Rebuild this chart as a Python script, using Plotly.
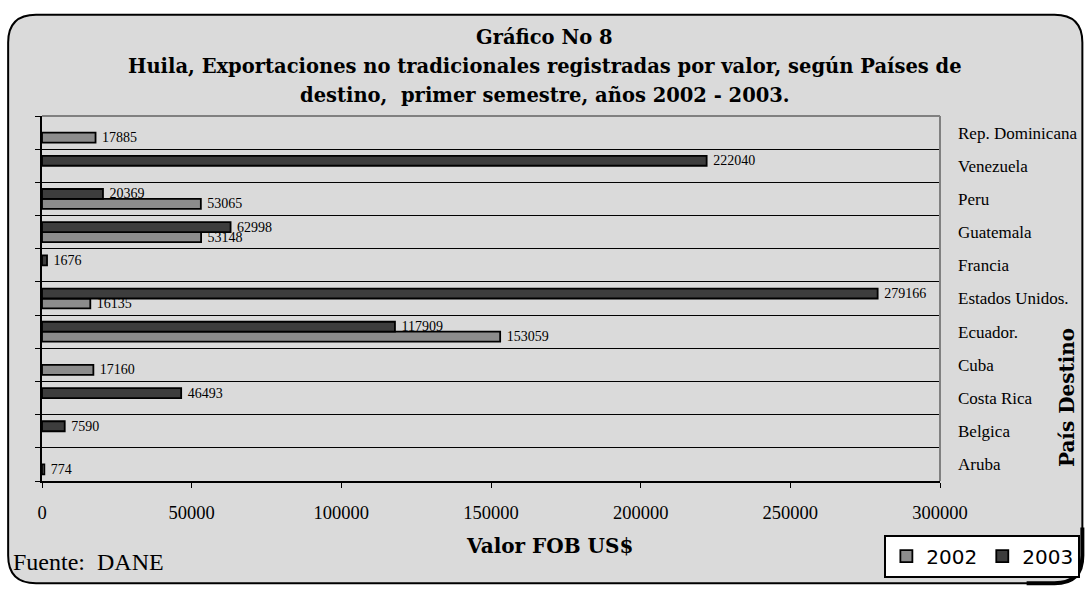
import plotly.graph_objects as go

# ---------------- data (bottom-to-top order as drawn by plotly) ----------------
categories = ["Aruba", "Belgica", "Costa Rica", "Cuba", "Ecuador.", "Estados Unidos.",
              "Francia", "Guatemala", "Peru", "Venezuela", "Rep. Dominicana"]
values_2002 = [774, None, None, 17160, 153059, 16135, None, 53148, 53065, None, 17885]
values_2003 = [None, 7590, 46493, None, 117909, 279166, 1676, 62998, 20369, 222040, None]
series_names = ["2002", "2003"]
x_ticks = [0, 50000, 100000, 150000, 200000, 250000, 300000]

# ---------------- layout geometry (pixels) ----------------
W, H = 1092, 589
PL, PR, PT, PB = 42, 944, 116, 484   # plot area in pixels


def px(x):
    return (x - PL) / (PR - PL)


def py(y):
    return (PB - y) / (PB - PT)


def labels(vals):
    return ["" if v is None else " " + str(v) for v in vals]


fig = go.Figure()
colors = ["#8c8c8c", "#3d3d3d"]
for name, vals, col in zip(series_names, [values_2002, values_2003], colors):
    fig.add_trace(go.Bar(
        y=categories, x=vals, name=name, orientation="h",
        marker=dict(color=col, line=dict(color="black", width=1.8)),
        text=labels(vals), textposition="outside", cliponaxis=False,
        constraintext="none",
        textfont=dict(family="Liberation Serif", size=14, color="black"),
        hoverinfo="x+y",
    ))

# invisible helper trace carrying the right-hand category labels
fig.add_trace(go.Scatter(
    y=categories, x=[0] * len(categories), yaxis="y2", mode="markers",
    marker=dict(opacity=0), showlegend=False, hoverinfo="skip",
))

# outer rounded frame
r = 28
x0, y0, x1, y1 = 8, 14, 1087, 587
rx = r / (PR - PL)
ry = r / (PB - PT)
XL, XR, YB, YT = px(x0), px(x1), py(y1), py(y0)
path = (f"M {XL+rx},{YT} L {XR-rx},{YT} Q {XR},{YT} {XR},{YT-ry} "
        f"L {XR},{YB+ry} Q {XR},{YB} {XR-rx},{YB} L {XL+rx},{YB} "
        f"Q {XL},{YB} {XL},{YB+ry} L {XL},{YT-ry} Q {XL},{YT} {XL+rx},{YT} Z")
shadow = (f"M {XR-rx*2.0},{YB} L {XR-rx},{YB} Q {XR},{YB} {XR},{YB+ry} L {XR},{YB+ry*2.0}")

shapes = [
    dict(type="path", path=path, xref="paper", yref="paper", layer="below",
         fillcolor="#dadada", line=dict(color="black", width=2)),
    dict(type="path", path=shadow, xref="paper", yref="paper", layer="above",
         line=dict(color="black", width=4)),
    dict(type="line", xref="paper", yref="paper", x0=0, x1=1, y0=1, y1=1,
         line=dict(color="#808080", width=2), layer="above"),
    dict(type="line", xref="paper", yref="paper", x0=1, x1=1, y0=0, y1=1,
         line=dict(color="#808080", width=2), layer="above"),
]

title_lines = [
    "Gráfico No 8",
    "Huila, Exportaciones no tradicionales registradas por valor, según Países de",
    "destino,  primer semestre, años 2002 - 2003.",
]
title_y = [37, 66, 95]
annotations = []
for t, yy in zip(title_lines, title_y):
    annotations.append(dict(text=f"<b>{t}</b>", x=px(547), y=py(yy), xref="paper", yref="paper",
                            showarrow=False, xanchor="center", yanchor="middle",
                            font=dict(family="DejaVu Serif", size=19.5, color="black")))
annotations += [
    dict(text="<b>Valor FOB US$</b>", x=px(552), y=py(550), xref="paper", yref="paper",
         showarrow=False, xanchor="center", yanchor="middle",
         font=dict(family="DejaVu Serif", size=20, color="black")),
    dict(text="Fuente:  DANE", x=px(11), y=py(566), xref="paper", yref="paper",
         showarrow=False, xanchor="left", yanchor="middle",
         font=dict(family="Liberation Serif", size=24, color="black")),
    dict(text="<b>País Destino</b>", x=px(1071), y=py(400), xref="paper", yref="paper",
         showarrow=False, xanchor="center", yanchor="middle", textangle=-90,
         font=dict(family="DejaVu Serif", size=20, color="black")),
]

fig.update_layout(
    width=W, height=H,
    margin=dict(l=PL, r=W - PR, t=PT, b=H - PB, pad=0),
    paper_bgcolor="white", plot_bgcolor="white",
    barmode="group", bargap=0.40, bargroupgap=0,
    shapes=shapes, annotations=annotations,
    legend=dict(orientation="h", x=px(1085), xanchor="right", y=py(538), yanchor="top",
                bgcolor="white", bordercolor="black", borderwidth=2,
                font=dict(family="DejaVu Sans", size=20, color="black"),
                itemwidth=30, traceorder="normal"),
    xaxis=dict(range=[0, 300000], tickvals=x_ticks, ticktext=[str(v) for v in x_ticks],
               showgrid=False, zeroline=False, showline=True, linecolor="black", linewidth=2,
               ticks="outside", ticklen=5, tickcolor="black", tickwidth=1,
               ticklabelstandoff=9,
               tickfont=dict(family="Liberation Serif", size=18.5, color="black")),
    yaxis=dict(type="category", categoryorder="array", categoryarray=categories,
               range=[-0.5, len(categories) - 0.5], side="left",
               tickson="boundaries", ticks="outside", ticklen=5, tickcolor="black",
               showticklabels=False, showgrid=True, gridcolor="black", gridwidth=1,
               showline=True, linecolor="black", linewidth=2, zeroline=False),
    yaxis2=dict(type="category", categoryorder="array", categoryarray=categories,
                range=[-0.5, len(categories) - 0.5], overlaying="y", side="right",
                anchor="x", showgrid=False, showline=False, ticks="", zeroline=False,
                ticklabelstandoff=17,
                tickfont=dict(family="Liberation Serif", size=17, color="black")),
    showlegend=True,
)

fig.write_html("out.html", config={"displayModeBar": False},
               post_script="document.body.style.margin='0';document.body.style.overflow='hidden';")
